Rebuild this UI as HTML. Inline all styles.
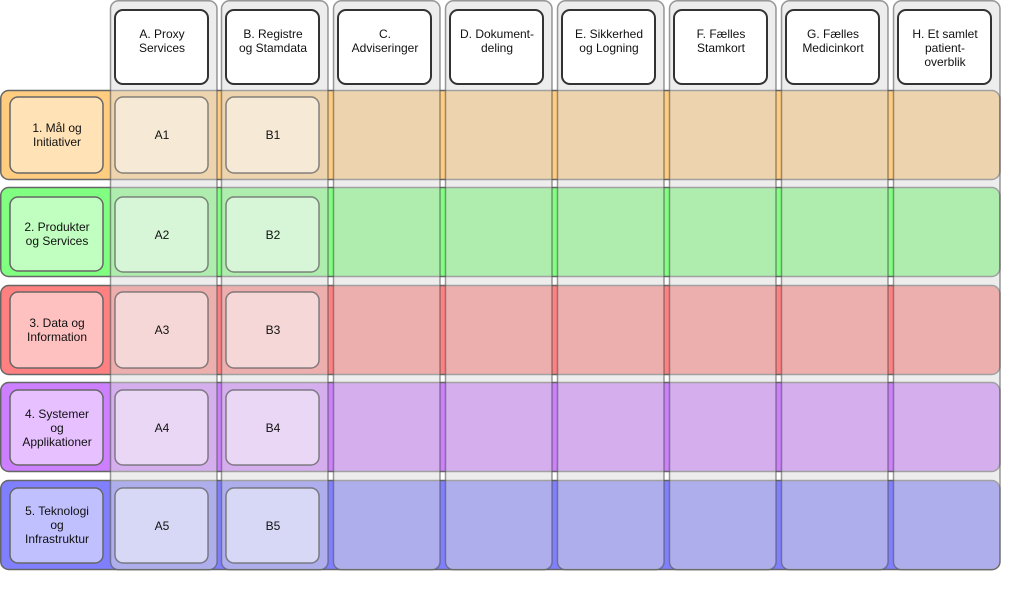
<!DOCTYPE html>
<html><head><meta charset="utf-8"><style>
html,body{margin:0;padding:0;background:#fff;}
svg{display:block;}
text{font-family:"Liberation Sans",Arial,sans-serif;font-size:12px;fill:#111;text-anchor:middle;}
</style></head><body>
<svg width="1020" height="607" viewBox="0 0 1020 607" xmlns="http://www.w3.org/2000/svg">
<!-- rows -->
<g stroke="#666" stroke-width="1.5">
<rect x="0.75" y="90.5" width="999" height="89" rx="8" fill="#FFCC80"/>
<rect x="0.75" y="187.5" width="999" height="89" rx="8" fill="#80FF80"/>
<rect x="0.75" y="285.5" width="999" height="89" rx="8" fill="#FF8080"/>
<rect x="0.75" y="382.5" width="999" height="89" rx="8" fill="#CC80FF"/>
<rect x="0.75" y="480.5" width="999" height="89" rx="8" fill="#8080FF"/>
</g>
<!-- columns -->
<g fill="#DBDBDB" fill-opacity="0.5" stroke="#555" stroke-opacity="0.6" stroke-width="1.5">
<rect x="110.5" y="0.75" width="106.5" height="569" rx="8"/>
<rect x="221.5" y="0.75" width="106.5" height="569" rx="8"/>
<rect x="333.5" y="0.75" width="106.5" height="569" rx="8"/>
<rect x="445.5" y="0.75" width="106.5" height="569" rx="8"/>
<rect x="557.5" y="0.75" width="106.5" height="569" rx="8"/>
<rect x="669.5" y="0.75" width="106.5" height="569" rx="8"/>
<rect x="781.5" y="0.75" width="106.5" height="569" rx="8"/>
<rect x="893.5" y="0.75" width="106.5" height="569" rx="8"/>
</g>
<!-- header boxes -->
<g fill="#fff" stroke="#333" stroke-width="2">
<rect x="115" y="10" width="93" height="74" rx="8"/>
<rect x="226" y="10" width="93" height="74" rx="8"/>
<rect x="338" y="10" width="93" height="74" rx="8"/>
<rect x="450" y="10" width="93" height="74" rx="8"/>
<rect x="562" y="10" width="93" height="74" rx="8"/>
<rect x="674" y="10" width="93" height="74" rx="8"/>
<rect x="786" y="10" width="93" height="74" rx="8"/>
<rect x="898" y="10" width="93" height="74" rx="8"/>
</g>
<text x="162" y="38">A. Proxy</text><text x="162" y="52">Services</text>
<text x="273" y="38">B. Registre</text><text x="273" y="52">og Stamdata</text>
<text x="385" y="38">C.</text><text x="385" y="52">Adviseringer</text>
<text x="497" y="38">D. Dokument-</text><text x="497" y="52">deling</text>
<text x="609" y="38">E. Sikkerhed</text><text x="609" y="52">og Logning</text>
<text x="721" y="38">F. Fælles</text><text x="721" y="52">Stamkort</text>
<text x="833" y="38">G. Fælles</text><text x="833" y="52">Medicinkort</text>
<text x="945" y="38">H. Et samlet</text><text x="945" y="52">patient-</text><text x="945" y="66">overblik</text>
<!-- row label boxes -->
<g stroke="#666" stroke-width="1.5">
<rect x="10" y="97" width="93" height="76" rx="8" fill="#FFE2B6"/>
<rect x="10" y="197" width="93" height="74" rx="8" fill="#C0FFC0"/>
<rect x="10" y="292" width="93" height="76" rx="8" fill="#FFC0C0"/>
<rect x="10" y="390" width="93" height="75" rx="8" fill="#E6C0FF"/>
<rect x="10" y="488" width="93" height="75" rx="8" fill="#C0C0FF"/>
</g>
<text x="57" y="132">1. Mål og</text><text x="57" y="146">Initiativer</text>
<text x="57" y="231">2. Produkter</text><text x="57" y="245">og Services</text>
<text x="57" y="327">3. Data og</text><text x="57" y="341">Information</text>
<text x="57" y="418">4. Systemer</text><text x="57" y="432">og</text><text x="57" y="446">Applikationer</text>
<text x="57" y="515">5. Teknologi</text><text x="57" y="529">og</text><text x="57" y="543">Infrastruktur</text>
<!-- A/B cells -->
<g fill="#fff" fill-opacity="0.5" stroke="#666" stroke-opacity="0.8" stroke-width="1.5">
<rect x="115" y="97" width="93" height="76" rx="8"/><rect x="226" y="97" width="93" height="76" rx="8"/>
<rect x="115" y="197" width="93" height="75" rx="8"/><rect x="226" y="197" width="93" height="75" rx="8"/>
<rect x="115" y="292" width="93" height="76" rx="8"/><rect x="226" y="292" width="93" height="76" rx="8"/>
<rect x="115" y="390" width="93" height="75" rx="8"/><rect x="226" y="390" width="93" height="75" rx="8"/>
<rect x="115" y="488" width="93" height="75" rx="8"/><rect x="226" y="488" width="93" height="75" rx="8"/>
</g>
<text x="162" y="139">A1</text><text x="273" y="139">B1</text>
<text x="162" y="239">A2</text><text x="273" y="239">B2</text>
<text x="162" y="334">A3</text><text x="273" y="334">B3</text>
<text x="162" y="432">A4</text><text x="273" y="432">B4</text>
<text x="162" y="530">A5</text><text x="273" y="530">B5</text>
</svg>
</body></html>
